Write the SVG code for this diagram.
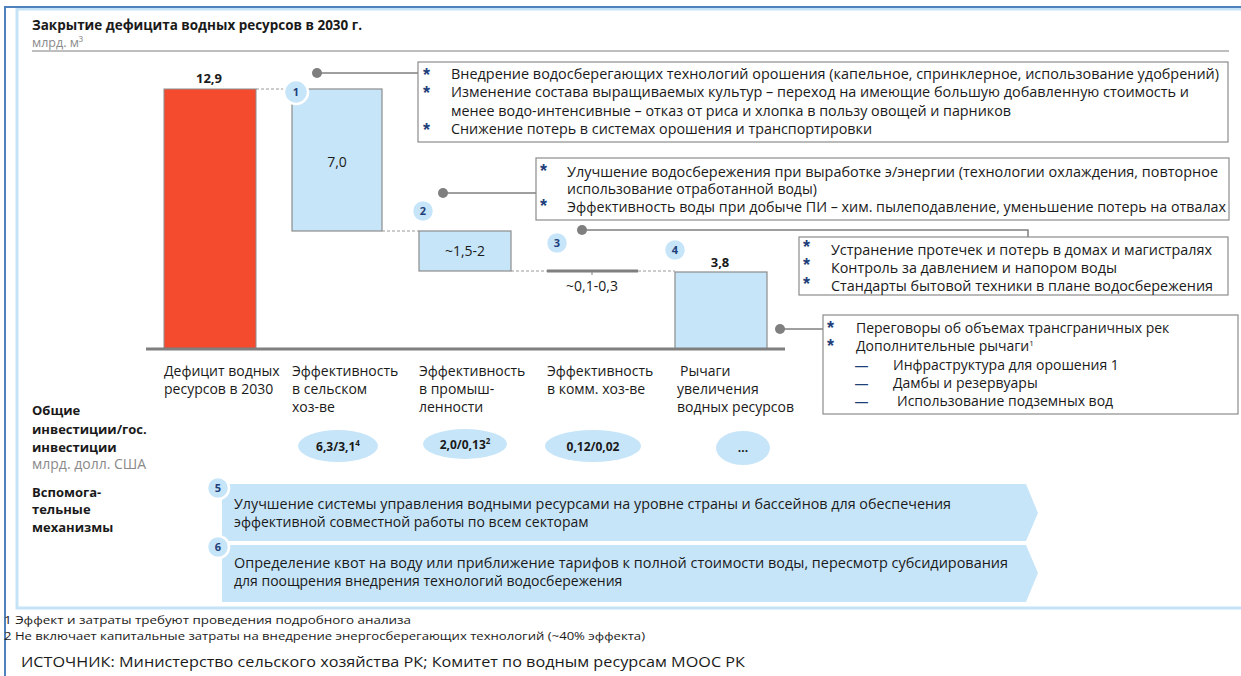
<svg xmlns="http://www.w3.org/2000/svg" width="1241" height="676" viewBox="0 0 1241 676">
<style>
.t{font-family:"Open Sans","Liberation Sans",sans-serif;font-size:14px;fill:#1a1a1a}
.b{font-weight:bold}
.l13{font-size:13px}
.g{fill:#8a8a8a}
.s{font-size:10px}
.ast{font-family:"Liberation Sans",sans-serif;font-size:18px;font-weight:bold;fill:#1F3F7A}
.dash{font-family:"Liberation Sans",sans-serif;font-size:13px;font-weight:bold;fill:#1F3F7A}
.box{fill:#fff;stroke:#8c8c8c;stroke-width:1.2}
.lb{fill:#C7E5F9}
.bar{fill:#C7E5F9;stroke:#8c8c8c;stroke-width:1.2}
.num{fill:#C7E5F9;stroke:#fff;stroke-width:2.5}
.nt{font-family:"Open Sans","Liberation Sans",sans-serif;font-size:11px;font-weight:bold;fill:#1F3F7A;text-anchor:middle}
.dot{fill:#7f7f7f}
.ln{stroke:#7f7f7f;stroke-width:1.5;fill:none}
.dsh{stroke:#9a9a9a;stroke-width:1;stroke-dasharray:3,2;fill:none}
.mid{text-anchor:middle}
</style>
<g id="frame">
<rect x="17" y="9" width="1235" height="599" fill="none" stroke="#C5E3F7" stroke-width="3"/>
<path d="M5,676 V7 H1241" fill="none" stroke="#4F81BD" stroke-width="2"/>
</g>
<g id="header">
<text class="t b" x="32" y="30" textLength="330" lengthAdjust="spacingAndGlyphs">Закрытие дефицита водных ресурсов в 2030 г.</text>
<text class="t g" x="32" y="47" style="font-size:12.5px">млрд. м³</text>
<line x1="32" y1="51" x2="1229" y2="51" stroke="#7f7f7f" stroke-width="1"/>
</g>
<g id="connectors">
<line class="dsh" x1="256" y1="89" x2="292" y2="89"/>
<line class="dsh" x1="382" y1="231" x2="419" y2="231"/>
<line class="dsh" x1="511" y1="271" x2="547" y2="271"/>
<line class="dsh" x1="638" y1="271" x2="675" y2="271"/>
<line class="ln" x1="317" y1="73" x2="418" y2="73"/>
<circle class="dot" cx="317" cy="73" r="5"/>
<line class="ln" x1="443" y1="193" x2="536" y2="193"/>
<circle class="dot" cx="443" cy="193" r="5"/>
<polyline class="ln" points="582,230 1028,230 1028,237"/>
<circle class="dot" cx="582" cy="230" r="5"/>
<line class="ln" x1="780" y1="329" x2="823" y2="329"/>
<circle class="dot" cx="780" cy="329" r="5"/>
</g>
<g id="bar-deficit">
<rect x="164" y="89" width="92" height="260" fill="#F44A2E" stroke="#8c8c8c" stroke-width="1"/>
<text class="t b mid l13" x="209" y="83">12,9</text>
</g>
<g id="bar-agri">
<rect class="bar" x="292" y="89" width="90" height="142"/>
<text class="t mid" x="337" y="167">7,0</text>
<circle class="num" cx="296" cy="92" r="12"/>
<text class="nt" x="296" y="96">1</text>
</g>
<g id="bar-industry">
<rect class="bar" x="419" y="231" width="92" height="40"/>
<text class="t mid" x="465" y="256">~1,5-2</text>
<circle class="num" cx="423" cy="211" r="11"/>
<text class="nt" x="423" y="215">2</text>
</g>
<g id="bar-communal">
<line x1="547" y1="271" x2="638" y2="271" stroke="#7f7f7f" stroke-width="3"/>
<line x1="592" y1="271" x2="592" y2="275" stroke="#7f7f7f" stroke-width="1"/>
<text class="t mid" x="592" y="291">~0,1-0,3</text>
<circle class="num" cx="557" cy="243" r="11"/>
<text class="nt" x="557" y="247">3</text>
</g>
<g id="bar-levers">
<rect class="bar" x="675" y="272" width="92" height="77"/>
<text class="t b mid l13" x="720" y="267">3,8</text>
<circle class="num" cx="675" cy="250" r="11"/>
<text class="nt" x="675" y="254">4</text>
</g>
<g id="axis">
<line x1="146" y1="349" x2="785" y2="349" stroke="#7f7f7f" stroke-width="3"/>
</g>
<g id="callout-1">
<rect class="box" x="418" y="62" width="810" height="80"/>
<text class="ast" x="423" y="81">*</text>
<text class="ast" x="423" y="99">*</text>
<text class="ast" x="423" y="136">*</text>
<text class="t" x="451" y="79" textLength="768" lengthAdjust="spacingAndGlyphs">Внедрение водосберегающих технологий орошения (капельное, спринклерное, использование удобрений)</text>
<text class="t" x="451" y="97" textLength="738" lengthAdjust="spacingAndGlyphs">Изменение состава выращиваемых культур – переход на имеющие большую добавленную стоимость и</text>
<text class="t" x="451" y="116" textLength="560" lengthAdjust="spacingAndGlyphs">менее водо-интенсивные – отказ от риса и хлопка в пользу овощей и парников</text>
<text class="t" x="451" y="134" textLength="421" lengthAdjust="spacingAndGlyphs">Снижение потерь в системах орошения и транспортировки</text>
</g>
<g id="callout-2">
<rect class="box" x="536" y="158" width="693" height="62"/>
<text class="ast" x="540" y="177">*</text>
<text class="ast" x="540" y="212">*</text>
<text class="t" x="567" y="177" textLength="651" lengthAdjust="spacingAndGlyphs">Улучшение водосбережения при выработке э/энергии (технологии охлаждения, повторное</text>
<text class="t" x="567" y="194">использование отработанной воды)</text>
<text class="t" x="567" y="212" textLength="659" lengthAdjust="spacingAndGlyphs">Эффективность воды при добыче ПИ – хим. пылеподавление, уменьшение потерь на отвалах</text>
</g>
<g id="callout-3">
<rect class="box" x="799" y="237" width="429" height="58"/>
<text class="ast" x="803" y="253">*</text>
<text class="ast" x="803" y="271">*</text>
<text class="ast" x="803" y="290">*</text>
<text class="t" x="831" y="255" textLength="381" lengthAdjust="spacingAndGlyphs">Устранение протечек и потерь в домах и магистралях</text>
<text class="t" x="831" y="273" textLength="286" lengthAdjust="spacingAndGlyphs">Контроль за давлением и напором воды</text>
<text class="t" x="831" y="291" textLength="382" lengthAdjust="spacingAndGlyphs">Стандарты бытовой техники в плане водосбережения</text>
</g>
<g id="callout-4">
<rect class="box" x="823" y="315" width="415" height="99"/>
<text class="ast" x="827" y="334">*</text>
<text class="ast" x="827" y="352">*</text>
<text class="t" x="856" y="333">Переговоры об объемах трансграничных рек</text>
<text class="t" x="856" y="351">Дополнительные рычаги<tspan style="font-size:8px" dy="-5">1</tspan></text>
<text class="dash" x="855" y="370">—</text>
<text class="dash" x="855" y="388">—</text>
<text class="dash" x="855" y="406">—</text>
<text class="t" x="893" y="370">Инфраструктура для орошения 1</text>
<text class="t" x="893" y="388">Дамбы и резервуары</text>
<text class="t" x="897" y="406">Использование подземных вод</text>
</g>
<g id="labels">
<text class="t" x="164" y="376">Дефицит водных</text>
<text class="t" x="164" y="394">ресурсов в 2030</text>
<text class="t" x="292" y="376">Эффективность</text>
<text class="t" x="292" y="394">в сельском</text>
<text class="t" x="292" y="412">хоз-ве</text>
<text class="t" x="419" y="376">Эффективность</text>
<text class="t" x="419" y="394">в промыш-</text>
<text class="t" x="419" y="412">ленности</text>
<text class="t" x="547" y="376">Эффективность</text>
<text class="t" x="547" y="394">в комм. хоз-ве</text>
<text class="t" x="680" y="376">Рычаги</text>
<text class="t" x="677" y="394">увеличения</text>
<text class="t" x="677" y="412">водных ресурсов</text>
</g>
<g id="invest-label">
<text class="t b l13" x="32" y="415">Общие</text>
<text class="t b l13" x="32" y="434">инвестиции/гос.</text>
<text class="t b l13" x="32" y="452">инвестиции</text>
<text class="t g" x="32" y="469">млрд. долл. США</text>
</g>
<g id="invest-agri">
<ellipse class="lb" cx="338" cy="446" rx="40" ry="16"/>
<text class="t b mid" x="338" y="451" style="font-size:12px">6,3/3,1<tspan style="font-size:8px" dy="-5">4</tspan></text>
</g>
<g id="invest-industry">
<ellipse class="lb" cx="465" cy="444" rx="42" ry="15"/>
<text class="t b mid" x="465" y="449" style="font-size:12px">2,0/0,13<tspan style="font-size:8px" dy="-5">2</tspan></text>
</g>
<g id="invest-communal">
<ellipse class="lb" cx="593" cy="446" rx="48" ry="16"/>
<text class="t b mid" x="593" y="451" style="font-size:12px">0,12/0,02</text>
</g>
<g id="invest-levers">
<ellipse class="lb" cx="743" cy="448" rx="27" ry="17"/>
<text class="t b mid" x="743" y="452" style="font-size:12px">...</text>
</g>
<g id="support-label">
<text class="t b l13" x="32" y="497">Вспомога-</text>
<text class="t b l13" x="32" y="514">тельные</text>
<text class="t b l13" x="32" y="532">механизмы</text>
</g>
<g id="mechanism-5">
<polygon class="lb" points="222,484 1026,484 1038,513 1026,541 222,541"/>
<circle class="num" cx="218" cy="488" r="11"/>
<text class="nt" x="218" y="492">5</text>
<text class="t" x="234" y="509" textLength="717" lengthAdjust="spacingAndGlyphs">Улучшение системы управления водными ресурсами на уровне страны и бассейнов для обеспечения</text>
<text class="t" x="234" y="527">эффективной совместной работы по всем секторам</text>
</g>
<g id="mechanism-6">
<polygon class="lb" points="222,545 1026,545 1038,573 1026,602 222,602"/>
<circle class="num" cx="218" cy="547" r="11"/>
<text class="nt" x="218" y="551">6</text>
<text class="t" x="234" y="568" textLength="774" lengthAdjust="spacingAndGlyphs">Определение квот на воду или приближение тарифов к полной стоимости воды, пересмотр субсидирования</text>
<text class="t" x="234" y="586">для поощрения внедрения технологий водосбережения</text>
</g>
<g id="footnotes">
<text class="t s" x="4" y="624" textLength="407" lengthAdjust="spacingAndGlyphs">1 Эффект и затраты требуют проведения подробного анализа</text>
<text class="t s" x="4" y="640" textLength="641" lengthAdjust="spacingAndGlyphs">2 Не включает капитальные затраты на внедрение энергосберегающих технологий (~40% эффекта)</text>
<text class="t" x="21" y="667" textLength="724" lengthAdjust="spacingAndGlyphs">ИСТОЧНИК: Министерство сельского хозяйства РК; Комитет по водным ресурсам МООС РК</text>
</g>
</svg>
